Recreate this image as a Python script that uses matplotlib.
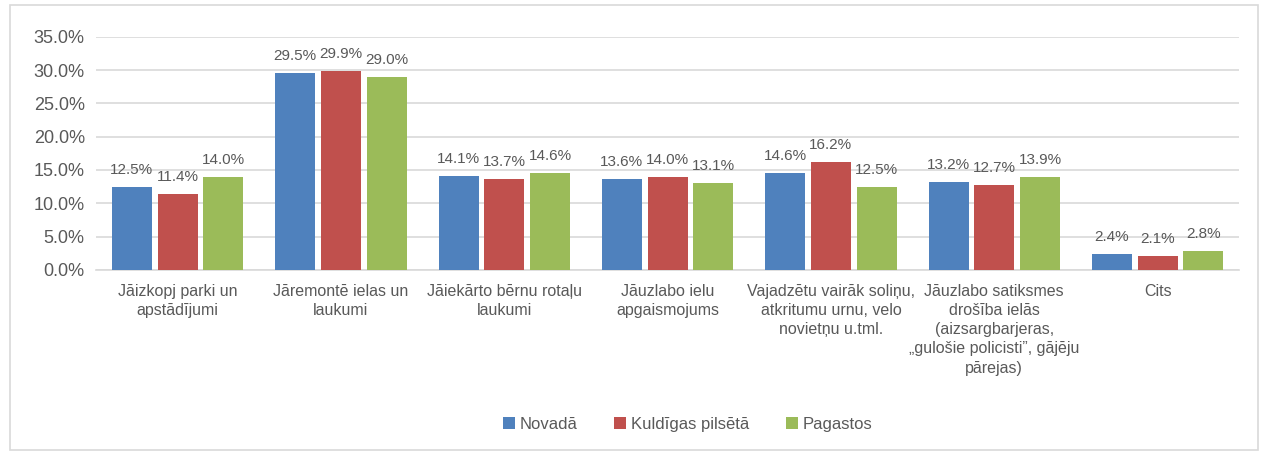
import numpy as np
import matplotlib.pyplot as plt
from matplotlib.patches import Rectangle

plt.rcParams['font.family'] = ['Liberation Sans', 'DejaVu Sans']

categories = [
    "Jāizkopj parki un\napstādījumi",
    "Jāremontē ielas un\nlaukumi",
    "Jāiekārto bērnu rotaļu\nlaukumi",
    "Jāuzlabo ielu\napgaismojums",
    "Vajadzētu vairāk soliņu,\natkritumu urnu, velo\nnovietņu u.tml.",
    "Jāuzlabo satiksmes\ndrošība ielās\n(aizsargbarjeras,\n„gulošie policisti”, gājēju\npārejas)",
    "Cits",
]
series_names = ["Novadā", "Kuldīgas pilsētā", "Pagastos"]
novada = [12.5, 29.5, 14.1, 13.6, 14.6, 13.2, 2.4]
kuldiga = [11.4, 29.9, 13.7, 14.0, 16.2, 12.7, 2.1]
pagasti = [14.0, 29.0, 14.6, 13.1, 12.5, 13.9, 2.8]
colors = ["#4F81BD", "#C0504D", "#9BBB59"]
text_col = "#595959"

fig = plt.figure(figsize=(12.62, 4.55), dpi=100)
ax = fig.add_axes([0.076, 0.407, 0.906, 0.512])

x = np.arange(len(categories))
offsets = [-0.28, 0, 0.28]
for vals, off, c, name in zip([novada, kuldiga, pagasti], offsets, colors, series_names):
    bars = ax.bar(x + off, vals, width=0.245, color=c, label=name, zorder=3)
    for b, v in zip(bars, vals):
        ax.text(b.get_x() + b.get_width() / 2, v + 1.5, f"{v:.1f}%",
                ha="center", va="bottom", fontsize=11, color=text_col)

ax.set_ylim(0, 35)
ax.set_xlim(-0.5, len(categories) - 0.5)
ax.set_yticks(np.arange(0, 35.1, 5))
ax.set_yticklabels([f"{t:.1f}%" for t in np.arange(0, 35.1, 5)])
ax.set_xticks(x)
ax.set_xticklabels(categories, linespacing=1.35)
ax.tick_params(axis="y", length=0, labelsize=13, colors=text_col, pad=8)
ax.tick_params(axis="x", length=0, labelsize=11.5, colors=text_col, pad=10)
ax.grid(axis="y", color="#D9D9D9", linewidth=1.2, zorder=0)
for s in ["top", "right", "left"]:
    ax.spines[s].set_visible(False)
ax.spines["bottom"].set_color("#D9D9D9")
ax.spines["bottom"].set_linewidth(1.2)

fig.legend(loc="center", bbox_to_anchor=(0.545, 0.068), ncol=3, frameon=False,
           fontsize=12, handlelength=0.7, handleheight=0.7, handletextpad=0.3,
           columnspacing=2.2, labelcolor=text_col)

fig.patches.append(Rectangle((10 / 1262, 5 / 455), 1248 / 1262, 445 / 455,
                             transform=fig.transFigure, fill=False,
                             edgecolor="#D9D9D9", linewidth=1.2))

fig.savefig("out.png", dpi=100)
